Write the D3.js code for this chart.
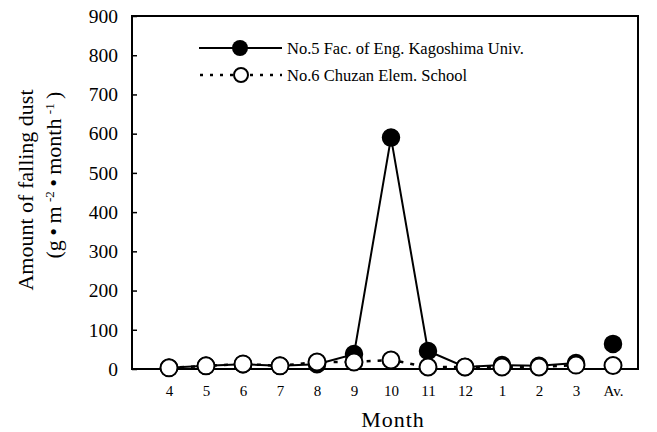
<!DOCTYPE html>
<html><head><meta charset="utf-8">
<script src="https://cdn.jsdelivr.net/npm/d3@7"></script>
<style>body{margin:0;background:#fff}svg{display:block}text{font-family:"Liberation Serif","Times New Roman",serif;fill:#000}</style>
</head><body>
<svg id="c" width="657" height="432"></svg>
<script>
const months = ["4","5","6","7","8","9","10","11","12","1","2","3","Av."];
const no5 = [3, 8, 12, 8, 12, 38, 590, 46, 5, 10, 8, 15, 64];
const no6 = [3, 8, 13, 8, 18, 18, 23, 5, 5, 5, 5, 10, 9];
const yTicks = [0,100,200,300,400,500,600,700,800,900];
const seriesNames = ["No.5 Fac. of Eng. Kagoshima Univ.", "No.6 Chuzan Elem. School"];

const svg = d3.select("#c");
const L = 132, R = 638, T = 16, B = 369;
const x = d3.scaleLinear().domain([0, 12]).range([169, 613]);
const y = d3.scaleLinear().domain([0, 900]).range([B, T]);

// frame
svg.append("rect").attr("x", L).attr("y", T).attr("width", R - L).attr("height", B - T)
  .attr("fill", "none").attr("stroke", "#000").attr("stroke-width", 2);

// y axis
const ya = svg.append("g").attr("transform", `translate(${L},0)`)
  .call(d3.axisRight(y).tickValues(yTicks).tickSize(5).tickFormat(""));
ya.select(".domain").remove();
ya.selectAll("line").attr("stroke-width", 1.5);
svg.append("g").selectAll("text").data(yTicks).join("text")
  .attr("x", 118).attr("y", d => y(d)).attr("dy", "0.35em").attr("text-anchor", "end")
  .style("font-size", "19.5px").text(d => d);

// x axis labels
const xa = svg.append("g").attr("transform", `translate(0,${B})`)
  .call(d3.axisBottom(x).tickValues(d3.range(13)).tickSize(0).tickPadding(16).tickFormat(i => months[i]));
xa.select(".domain").remove();
xa.selectAll("text").style("font-size", "15px").style("font-family", '"Liberation Serif",serif');

svg.append("text").attr("x", 393).attr("y", 427).attr("text-anchor", "middle")
  .style("font-size", "22px").style("letter-spacing", "1px").text("Month");

// y label
const yl = svg.append("text").attr("transform", "translate(33,190) rotate(-90)")
  .attr("text-anchor", "middle").style("font-size", "22px");
yl.append("tspan").attr("x", 0).attr("y", 0).text("Amount of falling dust");
const yl2 = svg.append("text").attr("transform", "translate(61,175) rotate(-90)")
  .attr("text-anchor", "middle").style("font-size", "22px");
yl2.append("tspan").text("(g\u2009\u2022\u2009m\u2009");
yl2.append("tspan").attr("dy", -7).style("font-size", "13px").text("-2");
yl2.append("tspan").attr("dy", 7).text("\u2009\u2022\u2009month\u2009");
yl2.append("tspan").attr("dy", -7).style("font-size", "13px").text("-1");
yl2.append("tspan").attr("dy", 7).text("\u2009)");

const line = d3.line().x((d, i) => x(i)).y(d => y(d));

// series 5
svg.append("path").datum(no5.slice(0, 12)).attr("d", line)
  .attr("fill", "none").attr("stroke", "#000").attr("stroke-width", 2);
// series 6 line
svg.append("path").datum(no6.slice(0, 12)).attr("d", line)
  .attr("fill", "none").attr("stroke", "#000").attr("stroke-width", 2.5).attr("stroke-dasharray", "4,7");

svg.append("g").selectAll("circle").data(no5).join("circle")
  .attr("cx", (d, i) => x(i)).attr("cy", d => y(d)).attr("r", 8.5)
  .attr("fill", "#000").attr("stroke", "#000").attr("stroke-width", 1.5);
svg.append("g").selectAll("circle").data(no6).join("circle")
  .attr("cx", (d, i) => x(i)).attr("cy", d => y(d)).attr("r", 8.5)
  .attr("fill", "#fff").attr("stroke", "#000").attr("stroke-width", 2);

// legend
const lg = svg.append("g");
lg.append("line").attr("x1", 199).attr("x2", 282).attr("y1", 48).attr("y2", 48)
  .attr("stroke", "#000").attr("stroke-width", 2);
lg.append("circle").attr("cx", 240).attr("cy", 48).attr("r", 8).attr("fill", "#000");
lg.append("text").attr("x", 287).attr("y", 48).attr("dy", "0.35em").style("font-size", "16.5px").text(seriesNames[0]);
lg.append("line").attr("x1", 200).attr("x2", 282).attr("y1", 75).attr("y2", 75)
  .attr("stroke", "#000").attr("stroke-width", 2.5).attr("stroke-dasharray", "3,7");
lg.append("circle").attr("cx", 241).attr("cy", 75).attr("r", 7).attr("fill", "#fff").attr("stroke", "#000").attr("stroke-width", 2);
lg.append("text").attr("x", 287).attr("y", 75).attr("dy", "0.35em").style("font-size", "16.5px").text(seriesNames[1]);
</script>
</body></html>
